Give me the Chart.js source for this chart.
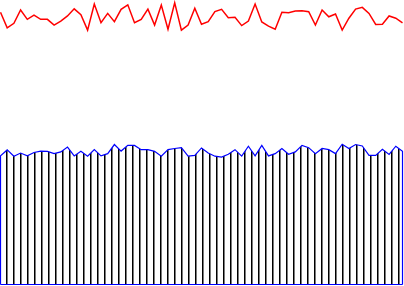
<!DOCTYPE html>
<html>
<head>
<meta charset="utf-8">
<script src="https://cdn.jsdelivr.net/npm/chart.js@4"></script>
<style>
  html, body { margin: 0; padding: 0; background: #fff; }
  #wrap { position: relative; width: 404px; height: 286px; }
</style>
</head>
<body>
<div id="wrap"><canvas id="chart"></canvas></div>
<script>
// 61 samples, indexed 0..60
const steps = Array.from({ length: 61 }, (_, i) => i);

const upperSeries = [
  95.7, 90.2, 91.8, 96.5, 93.2, 94.7, 93.2, 93.2, 91.2, 92.6,
  94.4, 96.9, 94.8, 89.4, 98.6, 92.0, 95.3, 92.4, 96.7, 98.3,
  92.0, 93.2, 96.8, 91.2, 98.2, 89.7, 99.0, 89.4, 91.2, 97.1,
  91.5, 92.4, 95.9, 96.7, 93.8, 93.9, 91.0, 92.6, 98.6, 92.3,
  90.8, 89.7, 95.7, 95.5, 96.1, 96.2, 95.9, 91.2, 96.5, 94.1,
  95.1, 89.4, 93.6, 96.8, 97.4, 95.3, 91.4, 91.5, 94.4, 93.6,
  92.0
];

const lowerSeries = [
  45.2, 47.3, 45.1, 46.2, 45.2, 46.4, 46.9, 46.8, 46.0, 46.6,
  48.3, 45.2, 46.8, 45.1, 47.4, 45.2, 46.0, 49.2, 46.9, 48.9,
  48.9, 47.4, 47.4, 46.8, 45.1, 47.4, 47.8, 48.1, 45.1, 45.4,
  48.0, 46.2, 45.1, 44.8, 45.8, 47.4, 45.1, 48.6, 45.2, 48.9,
  45.2, 46.0, 47.8, 45.8, 46.6, 48.9, 48.1, 46.0, 47.8, 47.4,
  46.0, 49.3, 47.8, 49.2, 48.7, 45.4, 45.4, 47.5, 45.7, 48.6,
  46.8
];

// vertical hatch used to fill the lower area
function makeHatch() {
  const c = document.createElement('canvas');
  c.width = 7;
  c.height = 8;
  const g = c.getContext('2d');
  g.fillStyle = '#fff';
  g.fillRect(0, 0, 7, 8);
  g.fillStyle = '#000';
  g.fillRect(6, 0, 1, 8);
  g.fillStyle = '#7a7a7a';
  g.fillRect(0, 0, 1, 8);
  return g.createPattern(c, 'repeat');
}

const first = steps[0];
const last = steps[steps.length - 1];
const upperPoints = steps.map((s, i) => ({ x: s, y: upperSeries[i] }));
// outline goes down to the base at both ends
const lowerPoints = [{ x: first, y: 0 }]
  .concat(steps.map((s, i) => ({ x: s, y: lowerSeries[i] })))
  .concat([{ x: last, y: 0 }]);
const basePoints = [{ x: first, y: 0 }, { x: last, y: 0 }];

const ctx = document.getElementById('chart');
new Chart(ctx, {
  type: 'line',
  data: {
    datasets: [
      {
        data: upperPoints,
        borderColor: '#ff0000',
        borderWidth: 1.5,
        pointRadius: 0,
        fill: false,
        tension: 0,
        clip: false
      },
      {
        data: basePoints,
        borderColor: '#0000ff',
        borderWidth: 1.2,
        pointRadius: 0,
        fill: false,
        clip: false
      },
      {
        data: lowerPoints,
        borderColor: '#0000ff',
        backgroundColor: makeHatch(),
        borderWidth: 1.2,
        pointRadius: 0,
        fill: 'origin',
        tension: 0,
        clip: false
      }
    ]
  },
  options: {
    responsive: true,
    maintainAspectRatio: false,
    animation: false,
    layout: { padding: { left: 0.5, right: 1.5, top: 0, bottom: 1.5 } },
    scales: {
      x: { type: 'linear', min: 0, max: 60, display: false },
      y: { min: 0, max: 100, display: false }
    },
    plugins: { legend: { display: false }, tooltip: { enabled: false } }
  }
});
</script>
</body>
</html>
